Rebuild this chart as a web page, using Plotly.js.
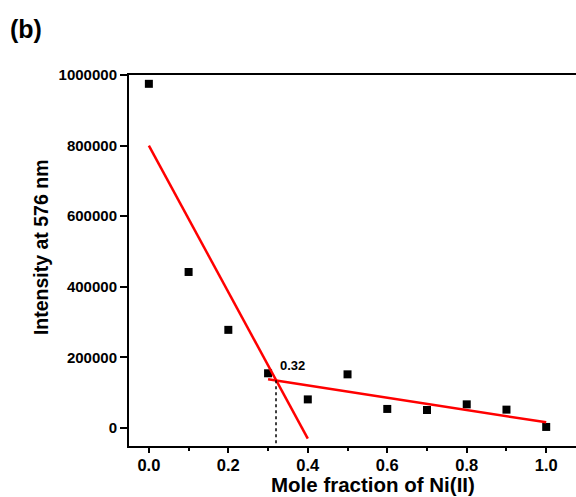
<!DOCTYPE html>
<html><head><meta charset="utf-8">
<script src="https://cdn.plot.ly/plotly-3.0.1.min.js"></script>
<style>html,body{margin:0;padding:0;background:#fff}#chart{width:576px;height:497px}</style>
</head><body><div id="chart"></div>
<script>
const moleFraction = [0.0,0.1,0.2,0.3,0.4,0.5,0.6,0.7,0.8,0.9,1.0];
const intensity = [975000,442000,278000,155000,81000,152000,54000,51000,67000,52000,3000];
const fit1X = [0.0,0.4];
const fit1Y = [800000,-30000];
const fit2X = [0.3,1.0];
const fit2Y = [138000,16000];
const crossX = [0.32,0.32];
const crossY = [135000,-51000];
const crossLabel = "0.32";
const xTickVals = [0,0.2,0.4,0.6,0.8,1.0];
const xTickText = ['0.0','0.2','0.4','0.6','0.8','1.0'];
const yTickVals = [0,200000,400000,600000,800000,1000000];
const yTickText = ['0','200000','400000','600000','800000','1000000'];

const traces = [
  {x: moleFraction, y: intensity, type:'scatter', mode:'markers',
   marker:{symbol:'square', size:8, color:'#000'}, cliponaxis:false},
  {x: fit1X, y: fit1Y, type:'scatter', mode:'lines', line:{color:'#ff0000', width:2.5}},
  {x: fit2X, y: fit2Y, type:'scatter', mode:'lines', line:{color:'#ff0000', width:2.5}},
  {x: crossX, y: crossY, type:'scatter', mode:'lines', line:{color:'#000', width:1.5, dash:'dot'}}
];
const fam = 'Arial, "Liberation Sans", sans-serif';
const layout = {
  width:576, height:497, showlegend:false,
  paper_bgcolor:'#fff', plot_bgcolor:'#fff',
  margin:{l:129, r:0, t:75, b:51},
  font: {family:fam, color:'#000'},
  xaxis:{range:[-0.05,1.075], tickvals:xTickVals, ticktext:xTickText,
    ticks:'outside', ticklen:5, tickwidth:2, tickcolor:'#000', ticklabelstandoff:-2,
    minor:{tickvals:[0.1,0.3,0.5,0.7,0.9], ticks:'outside', ticklen:3, tickwidth:2, tickcolor:'#000'},
    showline:true, linewidth:2, linecolor:'#000', mirror:true, showgrid:false, zeroline:false,
    tickfont:{family:fam, size:16.5, color:'#000', weight:'bold'}},
  yaxis:{range:[-51000,1000000], tickvals:yTickVals, ticktext:yTickText,
    ticks:'outside', ticklen:7, tickwidth:2, tickcolor:'#000',
    showline:true, linewidth:2, linecolor:'#000', showgrid:false, zeroline:false,
    tickfont:{family:fam, size:15, color:'#000', weight:'bold'}},
  annotations:[
    {text:'<b>(b)</b>', xref:'paper', yref:'paper', x:-0.2707, y:1.124, xanchor:'left', yanchor:'middle',
     showarrow:false, font:{size:25, color:'#000'}},
    {text:'<b>Intensity at 576 nm</b>', xref:'paper', yref:'paper', x:-0.197, y:0.536, xanchor:'center', yanchor:'middle',
     textangle:-90, showarrow:false, font:{size:19.5, color:'#000'}},
    {text:'<b>Mole fraction of Ni(II)</b>', xref:'paper', yref:'paper', x:0.546, y:-0.1375, xanchor:'center', yanchor:'bottom',
     showarrow:false, font:{size:20.5, color:'#000'}, borderpad:0},
    {text:'<b>'+crossLabel+'</b>', x:0.325, y:178000, xanchor:'left', yanchor:'middle',
     showarrow:false, font:{size:13, color:'#000'}}
  ]
};
Plotly.newPlot('chart', traces, layout, {displayModeBar:false, staticPlot:true});
</script></body></html>
